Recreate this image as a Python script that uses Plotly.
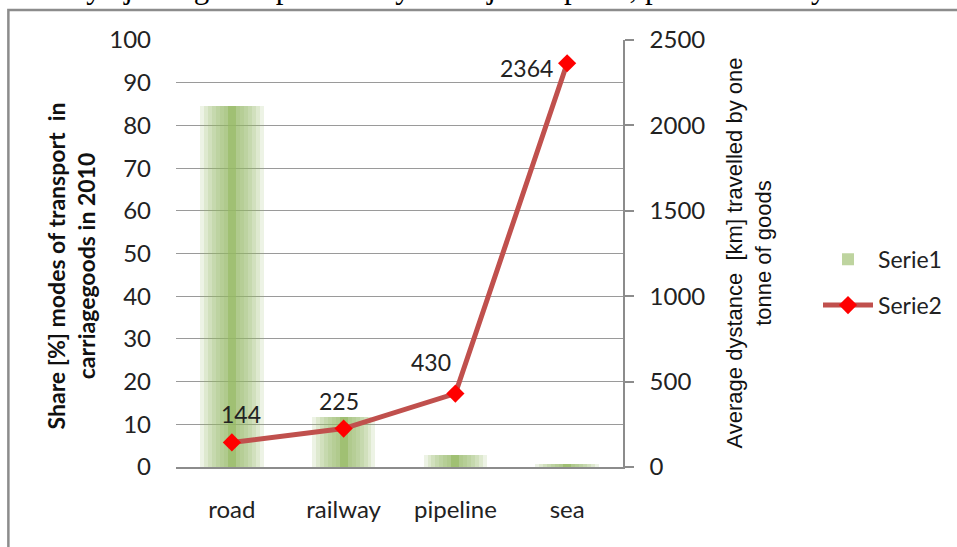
import plotly.graph_objects as go

# ---- data ----
categories = ["road", "railway", "pipeline", "sea"]
share_pct = [84.6, 11.6, 2.9, 0.8]          # Serie1 (left axis)
avg_distance = [144, 225, 430, 2364]        # Serie2 (right axis)
left_ticks = list(range(0, 101, 10))
right_ticks = list(range(0, 2501, 500))

# ---- layout geometry (pixels) ----
W, H = 957, 547
L, R, T, B = 176, 957 - 624, 40, 547 - 467.5
PW, PH = W - L - R, H - T - B


def px(x):
    return (x - L) / PW


def py(y):
    return (H - B - y) / PH


fig = go.Figure()

# bars: overlaid layers to imitate the gradient fill
bar_w = 0.57
n_layers = 8
for k in range(n_layers):
    w = bar_w * (1 - k / n_layers)
    last = k == n_layers - 1
    fig.add_trace(go.Bar(
        x=categories, y=share_pct, width=w,
        marker=dict(color="rgba(150,185,100,0.62)" if last else "rgba(150,185,100,0.17)",
                    line=dict(width=0)),
        name="Serie1", showlegend=last, legendgroup="s1",
        yaxis="y", hoverinfo="skip" if not last else None,
    ))

fig.add_trace(go.Scatter(
    x=categories, y=avg_distance, mode="lines+markers", name="Serie2",
    legendgroup="s2", yaxis="y2",
    line=dict(color="#C0504D", width=5),
    marker=dict(symbol="diamond", size=14, color="#FF0000"),
))

# data labels
label_offsets = [(9, 28), (-5, 28), (-24, 32), (-41, -5)]
for c, v, (dx, dy) in zip(categories, avg_distance, label_offsets):
    fig.add_annotation(x=c, y=v, xref="x", yref="y2", text=str(v), showarrow=False,
                       xshift=dx, yshift=dy, font=dict(family="Lato", size=23, color="#222"))

# axis titles
fig.add_annotation(x=px(70.5), y=py(266), xref="paper", yref="paper", textangle=-90,
                   text="<b>Share [%] modes of transport  in<br>carriagegoods in 2010</b>",
                   showarrow=False, xanchor="center", yanchor="middle",
                   font=dict(family="Lato", size=23, color="#111"))
fig.add_annotation(x=px(750), y=py(253), xref="paper", yref="paper", textangle=-90,
                   text="Average dystance  [km] travelled by one<br>tonne of goods",
                   showarrow=False, xanchor="center", yanchor="middle",
                   font=dict(family="Liberation Sans", size=22, color="#111"))

# clipped text line from the surrounding document
fig.add_annotation(x=px(934), y=py(12), xref="paper", yref="paper", yshift=5,
                   text="ebytej odległości przez dany rodzaj transportu, przedstawia rysunek 2.",
                   showarrow=False, xanchor="right", yanchor="bottom",
                   font=dict(family="Liberation Serif", size=31, color="#000"))

# frame around the chart
fig.add_shape(type="rect", xref="paper", yref="paper",
              x0=px(8), x1=px(1100), y0=py(700), y1=py(10),
              line=dict(color="#8c8c8c", width=2.5), fillcolor="rgba(0,0,0,0)", layer="below")

tickfont = dict(family="Lato", size=24, color="#222")
fig.update_layout(
    width=W, height=H, margin=dict(l=L, r=R, t=T, b=B, pad=0),
    paper_bgcolor="white", plot_bgcolor="white",
    barmode="overlay", bargap=0,
    showlegend=True,
    legend=dict(x=px(818), y=py(238), xanchor="left", yanchor="top",
                font=dict(family="Lato", size=23, color="#222"),
                tracegroupgap=13, bgcolor="rgba(0,0,0,0)", itemwidth=50),
    xaxis=dict(type="category", range=[-0.5, 3.5], tickfont=tickfont,
               showline=True, linecolor="#8c8c8c", linewidth=1.5, showgrid=False,
               ticks="", ticklabelstandoff=20, zeroline=False),
    yaxis=dict(range=[0, 100], tickvals=left_ticks, tickfont=tickfont,
               showgrid=True, gridcolor="#9a9a9a", gridwidth=1, zeroline=False,
               showline=False, ticks="", ticklabelstandoff=24),
    yaxis2=dict(range=[0, 2500], tickvals=right_ticks, tickfont=tickfont,
                overlaying="y", side="right", showgrid=False, zeroline=False,
                showline=True, linecolor="#8c8c8c", linewidth=1.5,
                ticks="outside", ticklen=9, tickcolor="#8c8c8c", tickwidth=1.5,
                ticklabelstandoff=11),
)

fig.write_html("out.html")
